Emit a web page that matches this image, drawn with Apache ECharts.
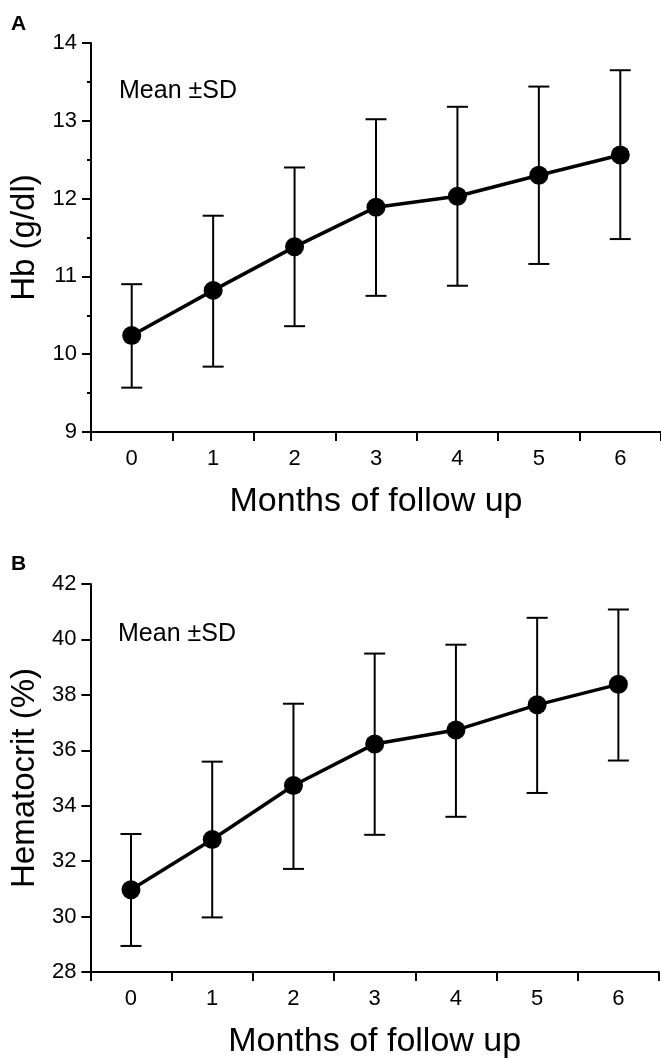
<!DOCTYPE html>
<html>
<head>
<meta charset="utf-8">
<script src="https://cdn.jsdelivr.net/npm/echarts@6/dist/echarts.min.js"></script>
<style>
html,body{margin:0;padding:0;background:#fff;}
#chart{width:661px;height:1060px;}
</style>
</head>
<body>
<div id="chart"></div>
<script>
// ---- data ----
const months = ['0', '1', '2', '3', '4', '5', '6'];
const hbMean  = [10.24, 10.82, 11.38, 11.89, 12.03, 12.30, 12.56];
const hbUpper = [10.90, 11.78, 12.40, 13.02, 13.18, 13.44, 13.65];
const hbLower = [9.57, 9.84, 10.36, 10.75, 10.88, 11.16, 11.48];
const hctMean  = [30.97, 32.78, 34.73, 36.23, 36.73, 37.64, 38.38];
const hctUpper = [32.98, 35.59, 37.68, 39.49, 39.81, 40.78, 41.08];
const hctLower = [28.94, 29.97, 31.72, 32.95, 33.60, 34.46, 35.63];
const xTitle = 'Months of follow up';
const hbTitle = 'Hb (g/dl)';
const hctTitle = 'Hematocrit (%)';
const noteText = 'Mean \u00B1SD';

const FONT = '"Liberation Sans", Arial, Helvetica, sans-serif';
const chart = echarts.init(document.getElementById('chart'), null, {renderer: 'canvas'});

function errData(lo, hi) { return lo.map((v, i) => [i, v, hi[i]]); }
function errRender(params, api) {
  const x = api.value(0);
  const lo = api.coord([x, api.value(1)]);
  const hi = api.coord([x, api.value(2)]);
  const hw = 10.5;
  const st = {stroke: '#000', lineWidth: 2};
  return {type: 'group', children: [
    {type: 'line', shape: {x1: lo[0], y1: lo[1], x2: hi[0], y2: hi[1]}, style: st},
    {type: 'line', shape: {x1: lo[0] - hw, y1: lo[1], x2: lo[0] + hw, y2: lo[1]}, style: st},
    {type: 'line', shape: {x1: hi[0] - hw, y1: hi[1], x2: hi[0] + hw, y2: hi[1]}, style: st}
  ]};
}

function xAxisCfg(gi) {
  return {
    gridIndex: gi, type: 'category', data: months, boundaryGap: true,
    name: xTitle, nameLocation: 'middle', nameGap: 53,
    nameTextStyle: {fontFamily: FONT, fontSize: 34, color: '#000'},
    axisLine: {lineStyle: {color: '#000', width: 2}},
    axisTick: {show: true, alignWithLabel: false, length: 9, lineStyle: {color: '#000', width: 2}},
    axisLabel: {fontFamily: FONT, fontSize: 22, color: '#000', margin: 16},
    splitLine: {show: false}
  };
}
function yAxisCfg(gi, min, max, interval, name, gap, minor) {
  return {
    gridIndex: gi, type: 'value', min: min, max: max, interval: interval,
    name: name, nameLocation: 'middle', nameGap: gap,
    nameTextStyle: {fontFamily: FONT, fontSize: 33, color: '#000'},
    axisLine: {show: true, lineStyle: {color: '#000', width: 2}},
    axisTick: {show: true, length: 9, lineStyle: {color: '#000', width: 2}},
    minorTick: {show: minor, splitNumber: 2, length: 4, lineStyle: {color: '#000', width: 2}},
    axisLabel: {fontFamily: FONT, fontSize: 22, color: '#000', margin: 14},
    splitLine: {show: false}, minorSplitLine: {show: false}
  };
}
function lineSeries(idx, data) {
  return {
    type: 'line', xAxisIndex: idx, yAxisIndex: idx, data: data,
    symbol: 'circle', symbolSize: 19, z: 5,
    lineStyle: {color: '#000', width: 3.5},
    itemStyle: {color: '#000'}, animation: false
  };
}

chart.setOption({
  animation: false,
  backgroundColor: '#fff',
  grid: [
    {left: 91, top: 43, width: 572, height: 389},
    {left: 87, top: 584, width: 572, height: 390}
  ],
  xAxis: [xAxisCfg(0), xAxisCfg(1)],
  yAxis: [
    yAxisCfg(0, 9, 14, 1, hbTitle, 47, true),
    yAxisCfg(1, 28, 42, 2, hctTitle, 43, false)
  ],
  graphic: [
    {type: 'text', x: 11, y: 14, style: {text: 'A', fontFamily: FONT, fontSize: 21, fontWeight: 'bold', fill: '#000', align: 'left', verticalAlign: 'top'}},
    {type: 'text', x: 11, y: 554, style: {text: 'B', fontFamily: FONT, fontSize: 21, fontWeight: 'bold', fill: '#000', align: 'left', verticalAlign: 'top'}},
    {type: 'text', x: 119, y: 79, style: {text: noteText, fontFamily: FONT, fontSize: 25, fill: '#000', align: 'left', verticalAlign: 'top'}},
    {type: 'text', x: 118, y: 622, style: {text: noteText, fontFamily: FONT, fontSize: 25, fill: '#000', align: 'left', verticalAlign: 'top'}}
  ],
  series: [
    {type: 'custom', xAxisIndex: 0, yAxisIndex: 0, data: errData(hbLower, hbUpper), renderItem: errRender, z: 2},
    lineSeries(0, hbMean),
    {type: 'custom', xAxisIndex: 1, yAxisIndex: 1, data: errData(hctLower, hctUpper), renderItem: errRender, z: 2},
    lineSeries(1, hctMean)
  ]
});
</script>
</body>
</html>
